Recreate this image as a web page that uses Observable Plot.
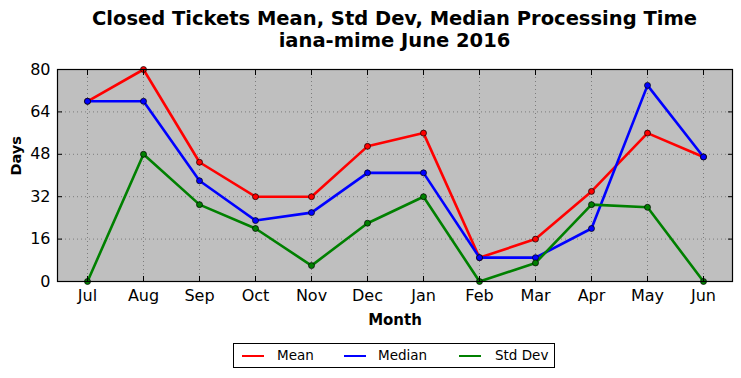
<!DOCTYPE html>
<html>
<head>
<meta charset="utf-8">
<script src="https://cdn.jsdelivr.net/npm/d3@7"></script>
<script src="https://cdn.jsdelivr.net/npm/@observablehq/plot@0.6"></script>
<style>
  body { margin: 0; background: #fff; font-family: "DejaVu Sans", sans-serif; }
  #wrap { position: relative; width: 741px; height: 378px; overflow: hidden; }
  #title { position: absolute; left: 57px; width: 675px; top: 8px; text-align: center;
           font-weight: bold; font-size: 19.5px; line-height: 22px; color: #000; }
  #chart { position: absolute; left: 0; top: 61px; }
  #legend { position: absolute; left: 233px; top: 343px; width: 320px; height: 23px;
            border: 1px solid #000; background: #fff; font-size: 13.5px; }
  .item { position: absolute; top: 0; height: 23px; line-height: 23px; }
  .sw { position: absolute; top: 11px; width: 22px; height: 0; border-top: 2.5px solid; }
</style>
</head>
<body>
<div id="wrap">
  <div id="title">Closed Tickets Mean, Std Dev, Median Processing Time<br>iana-mime June 2016</div>
  <div id="chart"></div>
  <div id="legend"></div>
</div>
<script>
const months = ["Jul","Aug","Sep","Oct","Nov","Dec","Jan","Feb","Mar","Apr","May","Jun"];
const meanDays   = [68, 80, 45, 32, 32, 51, 56, 9, 16, 34, 56, 47];
const medianDays = [68, 68, 38, 23, 26, 41, 41, 9, 9, 20, 74, 47];
const stdDays    = [0, 48, 29, 20, 6, 22, 32, 0, 7, 29, 28, 0];
const yTicks = [0, 16, 32, 48, 64, 80];
const seriesNames = ["Mean", "Median", "Std Dev"];
const seriesColors = ["#ff0000", "#0000ff", "#008000"];

const seriesValues = [meanDays, medianDays, stdDays];
const rows = [];
seriesNames.forEach((s, i) => months.forEach((m, j) => rows.push({series: s, month: m, value: seriesValues[i][j]})));

const plot = Plot.plot({
  width: 741,
  height: 272,
  marginTop: 8,
  marginBottom: 52,
  marginLeft: 57,
  marginRight: 9,
  style: {fontFamily: "DejaVu Sans, sans-serif", fontSize: "16px", background: "transparent", color: "#000"},
  x: {type: "point", domain: months, padding: 0.5, label: null},
  y: {domain: [0, 80], label: null},
  color: {domain: seriesNames, range: seriesColors},
  marks: [
    Plot.frame({fill: "#bfbfbf", stroke: null}),
    Plot.gridX({stroke: "#333", strokeOpacity: 0.6, strokeDasharray: "1,3", strokeWidth: 0.8}),
    Plot.gridY(yTicks, {stroke: "#333", strokeOpacity: 0.6, strokeDasharray: "1,3", strokeWidth: 0.8}),
    Plot.line(rows, {x: "month", y: "value", z: "series", stroke: "series", strokeWidth: 2.6}),
    Plot.dot(rows, {x: "month", y: "value", fill: "series", stroke: "#000", strokeWidth: 0.7, r: 3}),
    Plot.axisY(yTicks, {anchor: "left", tickSize: -5, tickPadding: 12, fontSize: 16, stroke: "#000"}),
    Plot.axisY(yTicks, {anchor: "right", tickSize: -5, text: null, stroke: "#000"}),
    Plot.axisX({anchor: "bottom", tickSize: -5, tickPadding: 13, fontSize: 16, stroke: "#000"}),
    Plot.axisX({anchor: "top", tickSize: -5, text: null, stroke: "#000"}),
    Plot.frame({stroke: "#000", strokeWidth: 1.2}),
    Plot.text(["Month"], {frameAnchor: "bottom", dy: 43, fontWeight: "bold", fontSize: 15, fill: "#000"}),
    Plot.text(["Days"], {frameAnchor: "left", dx: -41, rotate: -90, fontWeight: "bold", fontSize: 14.5, fill: "#000"})
  ]
});
document.getElementById("chart").appendChild(plot);

const legend = document.getElementById("legend");
const swX = [8, 110, 225];
const txX = [43, 144, 261];
seriesNames.forEach((s, i) => {
  const sw = document.createElement("div");
  sw.className = "sw";
  sw.style.left = swX[i] + "px";
  sw.style.borderTopColor = seriesColors[i];
  legend.appendChild(sw);
  const t = document.createElement("div");
  t.className = "item";
  t.style.left = txX[i] + "px";
  t.textContent = s;
  legend.appendChild(t);
});
</script>
</body>
</html>
